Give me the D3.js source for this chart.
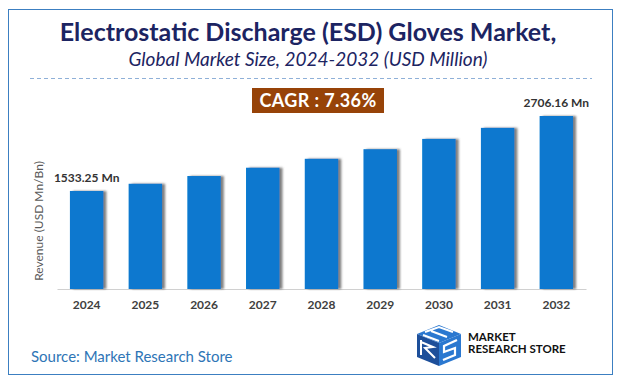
<!DOCTYPE html>
<html>
<head>
<meta charset="utf-8">
<script src="https://cdn.jsdelivr.net/npm/d3@7"></script>
<style>
  html, body { margin: 0; padding: 0; background: #fff; }
  svg { display: block; }
  text { font-family: Lato, "Open Sans", sans-serif; }
</style>
</head>
<body>
<svg id="chart" width="621" height="385"></svg>
<script>
const years = ["2024", "2025", "2026", "2027", "2028", "2029", "2030", "2031", "2032"];
const revenue = [1533.25, 1646.1, 1767.2, 1897.3, 2036.9, 2186.8, 2347.8, 2520.6, 2706.16];
const labels = { "2024": "1533.25 Mn", "2032": "2706.16 Mn" };
const titleText = "Electrostatic Discharge (ESD) Gloves Market,";
const subtitleText = "Global Market Size, 2024-2032 (USD Million)";
const cagrText = "CAGR : 7.36%";
const yAxisTitle = "Revenue (USD Mn/Bn)";
const sourceText = "Source: Market Research Store";

const svg = d3.select("#chart");

const defs = svg.append("defs");
const f = defs.append("filter").attr("id", "shadow").attr("x", "-20%").attr("y", "-5%").attr("width", "160%").attr("height", "110%");
f.append("feDropShadow").attr("dx", 3).attr("dy", 0).attr("stdDeviation", 1.3)
  .attr("flood-color", "#555").attr("flood-opacity", 0.75);

// frame
svg.append("rect").attr("x", 8.5).attr("y", 9.5).attr("width", 604).attr("height", 365)
  .attr("fill", "none").attr("stroke", "#3c7fc1").attr("stroke-width", 1);

// title
svg.append("text").attr("x", 308).attr("y", 41).attr("text-anchor", "middle")
  .attr("font-size", 25).attr("font-weight", 700).attr("fill", "#1c2462").text(titleText);
svg.append("text").attr("x", 308).attr("y", 66).attr("text-anchor", "middle")
  .attr("font-size", 19).attr("font-style", "italic").attr("fill", "#1c2462").text(subtitleText);

// dashed separator
svg.append("line").attr("x1", 30).attr("x2", 592).attr("y1", 78.5).attr("y2", 78.5)
  .attr("stroke", "#8fb0d8").attr("stroke-width", 1).attr("stroke-dasharray", "4,3");

// CAGR box
svg.append("rect").attr("x", 252).attr("y", 88).attr("width", 132).attr("height", 25).attr("fill", "#974308");
svg.append("text").attr("x", 318).attr("y", 106.5).attr("text-anchor", "middle")
  .attr("font-size", 18).attr("font-weight", 700).attr("letter-spacing", 0.4).attr("fill", "#fff").text(cagrText);

// scales
const x = d3.scaleBand().domain(years).range([57, 586]).paddingInner(0.43).paddingOuter(0.22);
const y = d3.scaleLinear().domain([0, 2706.16]).range([289, 116]);

// axis
const xAxis = svg.append("g").attr("transform", "translate(0,289)")
  .call(d3.axisBottom(x).tickSize(0).tickPadding(11));
xAxis.select(".domain").attr("stroke", "#d0d0d0").attr("stroke-width", 1.2);
xAxis.selectAll("text").attr("font-size", 12).attr("font-weight", 700).attr("fill", "#404040")
  .attr("font-family", "Lato, sans-serif");

// bars
svg.append("g").selectAll("rect").data(years).join("rect")
  .attr("x", d => x(d)).attr("width", x.bandwidth())
  .attr("y", (d, i) => y(revenue[i])).attr("height", (d, i) => y(0) - y(revenue[i]))
  .attr("fill", "#0778cf").attr("filter", "url(#shadow)");

// value labels
svg.append("g").selectAll("text").data(years.filter(d => labels[d])).join("text")
  .attr("x", d => x(d) + x.bandwidth() / 2)
  .attr("y", d => y(revenue[years.indexOf(d)]) - 9)
  .attr("text-anchor", "middle").attr("font-size", 12).attr("font-weight", 700).attr("fill", "#333")
  .text(d => labels[d]);

// y axis title
svg.append("text").attr("transform", "translate(43,221) rotate(-90)").attr("text-anchor", "middle")
  .attr("font-size", 12).attr("fill", "#595959").text(yAxisTitle);

// source
svg.append("text").attr("x", 31).attr("y", 362).attr("font-size", 15).attr("fill", "#2e75b6").text(sourceText);

// logo
const logo = svg.append("g").attr("transform", "translate(417,322)");
logo.append("polygon").attr("points", "0,12 22,3 44,12 22,21").attr("fill", "#2a78d0");
logo.append("polygon").attr("points", "0,12 22,21 22,44 0,35").attr("fill", "#1d4f9a");
logo.append("polygon").attr("points", "22,21 44,12 44,35 22,44").attr("fill", "#2a78d0");
logo.append("path").attr("d", "M8,10 L22,5 L36,10 M6,13 L22,19 M14,9 L30,15")
  .attr("stroke", "#fff").attr("stroke-width", 2).attr("fill", "none");
logo.append("path").attr("d", "M4,18 L4,33 M4,20 L16,25 L8,26 L18,36")
  .attr("stroke", "#fff").attr("stroke-width", 2).attr("fill", "none");
logo.append("path").attr("d", "M40,18 L27,24 L27,30 L38,26 L38,33 L26,38")
  .attr("stroke", "#fff").attr("stroke-width", 2.2).attr("fill", "none");
logo.append("text").attr("x", 51).attr("y", 18.5).attr("font-size", 11.5).attr("font-weight", 700)
  .attr("font-family", "'Liberation Sans Narrow', 'Roboto', sans-serif").attr("fill", "#111").text("MARKET");
logo.append("text").attr("x", 51).attr("y", 30.5).attr("font-size", 11.5).attr("font-weight", 700)
  .attr("font-family", "'Liberation Sans Narrow', 'Roboto', sans-serif").attr("fill", "#111").text("RESEARCH STORE");
</script>
</body>
</html>
